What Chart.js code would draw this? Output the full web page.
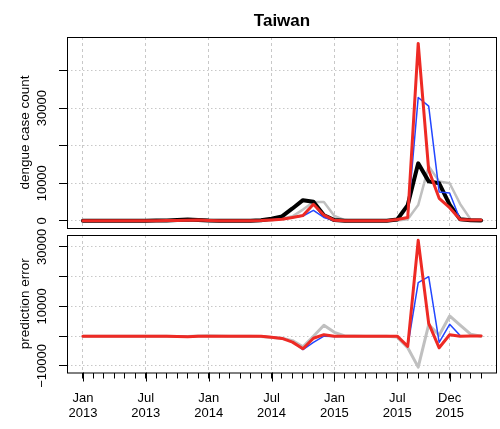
<!DOCTYPE html>
<html>
<head>
<meta charset="utf-8">
<script src="https://cdn.jsdelivr.net/npm/chart.js@4"></script>
<style>
  body { margin: 0; background: #fff; }
  #wrap { position: relative; width: 500px; height: 429px; }
  #wrap canvas { position: absolute; left: 0; top: 0; }
</style>
</head>
<body>
<div id="wrap">
  <canvas id="count-chart" width="500" height="429"></canvas>
  <canvas id="error-chart" width="500" height="429"></canvas>
</div>
<script>
const months = [
  'Jan 2013','Feb 2013','Mar 2013','Apr 2013','May 2013','Jun 2013','Jul 2013','Aug 2013','Sep 2013','Oct 2013','Nov 2013','Dec 2013',
  'Jan 2014','Feb 2014','Mar 2014','Apr 2014','May 2014','Jun 2014','Jul 2014','Aug 2014','Sep 2014','Oct 2014','Nov 2014','Dec 2014',
  'Jan 2015','Feb 2015','Mar 2015','Apr 2015','May 2015','Jun 2015','Jul 2015','Aug 2015','Sep 2015','Oct 2015','Nov 2015','Dec 2015',
  'Jan 2016','Feb 2016','Mar 2016'
];
const axisMonths = ['Jan 2013','Jul 2013','Jan 2014','Jul 2014','Jan 2015','Jul 2015','Dec 2015'];

const countTicks  = [0, 10000, 20000, 30000, 40000];
const countLabels = ['0', '10000', '', '30000', ''];
const errorTicks  = [-10000, 0, 10000, 20000, 30000];
const errorLabels = ['\u221210000', '', '10000', '', '30000'];

// dengue case counts
const observed  = [10,5,5,5,10,20,40,80,120, 200,330,250,100,40,20,20,40,150, 600,1200,3300,5500,5100,1500,200,60,30, 20,20,50,350,4200,15300,10500,10000,4300, 400,150,100];
const lastMonth = [10,10,5,5,5,10,20,40,80, 120,200,330,250,100,40,20,20,40, 150,600,1200,3000,5000,5000,1300,200,60, 30,20,20,60,400,4200,14500,10500,10000, 4500,400,200];
const modelBlue = [10,5,5,5,10,15,30,60,90, 140,180,200,120,50,20,15,30,100, 300,500,900,1300,2800,900,100,50,30, 20,20,40,350,900,32800,30500,7700,7400, 350,200,150];
const modelRed  = [10,5,5,5,10,15,30,60,90, 120,180,200,120,50,20,15,30,100, 250,450,900,1400,4400,1500,150,50,30, 20,20,40,350,900,47200,13500,6000,3500, 350,200,200];

// prediction errors
const errLastMonth = [0,5,0,0,-5,-10,-20,-40,-40, -80,-130,80,150,60,20,0,-20,-110, -450,-700,-1500,-3600,0,3700,1300,100,30, 10,0,-30,-300,-3900,-10400,3900,300,6800, 3700,700,0];
const errBlue      = [0,0,0,0,0,-5,-10,-20,-30, -60,-150,-50,20,10,0,-5,-10,-50, -300,-700,-1900,-4500,-2100,0,-100,-10,0, 0,0,-10,0,-3400,18000,20000,-2100,4000, 200,0,0];
const errRed       = [0,0,0,0,0,-5,-10,-20,-30, -80,-150,-50,20,10,0,-5,-10,-50, -350,-750,-2000,-4200,-700,500,0,-10,0, 0,0,-10,0,-3400,32200,4300,-3900,500, 0,50,100];

const FONT = '"Liberation Sans", Arial, Helvetica, sans-serif';
Chart.defaults.font.family = FONT;
Chart.defaults.color = '#000';

const GRID = '#c8c8c8';
const GREY = '#c0c0c0';
const BLUE = '#2246ff';
const RED  = '#ee2a24';

function pts(arr) {
  return arr.map((v, i) => ({ x: i, y: v }));
}

function line(arr, color, width, order) {
  return {
    data: pts(arr),
    borderColor: color,
    borderWidth: width,
    pointRadius: 0,
    tension: 0,
    fill: false,
    borderJoinStyle: 'round',
    borderCapStyle: 'round',
    order: order,
  };
}

function isMajor(i) {
  return axisMonths.includes(months[i]);
}

// box round the plot, rotated y labels, longer major x ticks
function frame(tickVals, tickLabels, longTicks) {
  return {
    id: 'frame',
    afterDraw(chart) {
      const { ctx, chartArea: a, scales } = chart;
      ctx.save();
      ctx.strokeStyle = '#000';
      ctx.lineWidth = 1;
      ctx.strokeRect(a.left + 0.5, a.top + 0.5, a.right - a.left - 1, a.bottom - a.top);
      ctx.font = '13px ' + FONT;
      ctx.fillStyle = '#000';
      ctx.textAlign = 'center';
      ctx.textBaseline = 'middle';
      tickLabels.forEach((t, k) => {
        if (!t) return;
        const y = scales.y.getPixelForValue(tickVals[k]);
        ctx.save();
        ctx.translate(42, y);
        ctx.rotate(-Math.PI / 2);
        ctx.fillText(t, 0, 0);
        ctx.restore();
      });
      if (longTicks) {
        axisMonths.forEach(m => {
          const x = Math.round(scales.x.getPixelForValue(months.indexOf(m))) + 0.5;
          ctx.beginPath();
          ctx.moveTo(x, a.bottom);
          ctx.lineTo(x, a.bottom + 9);
          ctx.stroke();
        });
      }
      ctx.restore();
    }
  };
}

function yScale(min, max, ticks, title) {
  return {
    min: min,
    max: max,
    afterBuildTicks: s => { s.ticks = ticks.map(v => ({ value: v })); },
    afterFit: s => { s.width = 67; },
    ticks: { display: false },
    grid: { color: GRID, lineWidth: 1, tickLength: 8, tickColor: '#000', tickWidth: 1 },
    border: { display: false, dash: [1.5, 2.5] },
    title: { display: true, text: title, color: '#000', font: { size: 13.5 }, padding: { top: 17, bottom: 0 } },
  };
}

function xScale(withLabels, height) {
  return {
    type: 'linear',
    min: -1.52,
    max: 39.52,
    afterBuildTicks: s => {
      s.ticks = months.map((m, i) => i).filter(i => withLabels || isMajor(i)).map(i => ({ value: i }));
    },
    afterFit: s => { s.height = height; },
    ticks: {
      display: withLabels,
      autoSkip: false,
      maxRotation: 0,
      padding: 12,
      font: { size: 13, lineHeight: 1.15 },
      color: '#000',
      callback: v => isMajor(v) ? months[v].split(' ') : '',
    },
    grid: {
      color: c => (c.tick && isMajor(c.tick.value)) ? GRID : 'rgba(0,0,0,0)',
      lineWidth: 1,
      drawTicks: withLabels,
      tickLength: 6,
      tickColor: '#000',
      tickWidth: 1,
    },
    border: { display: false, dash: [3, 3] },
  };
}

new Chart(document.getElementById('count-chart'), {
  type: 'line',
  data: {
    datasets: [
      line(lastMonth, GREY, 2.5, 4),
      line(observed, '#000', 4, 3),
      line(modelBlue, BLUE, 1.5, 2),
      line(modelRed, RED, 3, 1),
    ]
  },
  options: {
    responsive: false,
    animation: false,
    layout: { padding: { top: 0, right: 3, bottom: 201, left: 0 } },
    plugins: {
      legend: { display: false },
      tooltip: { enabled: false },
      title: {
        display: true,
        text: 'Taiwan',
        fullSize: false,
        color: '#000',
        font: { size: 17, weight: 'bold' },
        padding: { top: 11.5, bottom: 5.1 },
      },
    },
    scales: {
      x: xScale(false, 0),
      y: yScale(-1900, 48900, countTicks, 'dengue case count'),
    },
  },
  plugins: [frame(countTicks, countLabels, false)],
});

new Chart(document.getElementById('error-chart'), {
  type: 'line',
  data: {
    datasets: [
      line(errLastMonth, GREY, 3, 3),
      line(errBlue, BLUE, 1.5, 2),
      line(errRed, RED, 3, 1),
    ]
  },
  options: {
    responsive: false,
    animation: false,
    layout: { padding: { top: 235, right: 3, bottom: 0, left: 0 } },
    plugins: {
      legend: { display: false },
      tooltip: { enabled: false },
    },
    scales: {
      x: xScale(true, 56.5),
      y: yScale(-12200, 34000, errorTicks, 'prediction error'),
    },
  },
  plugins: [frame(errorTicks, errorLabels, true)],
});
</script>
</body>
</html>
